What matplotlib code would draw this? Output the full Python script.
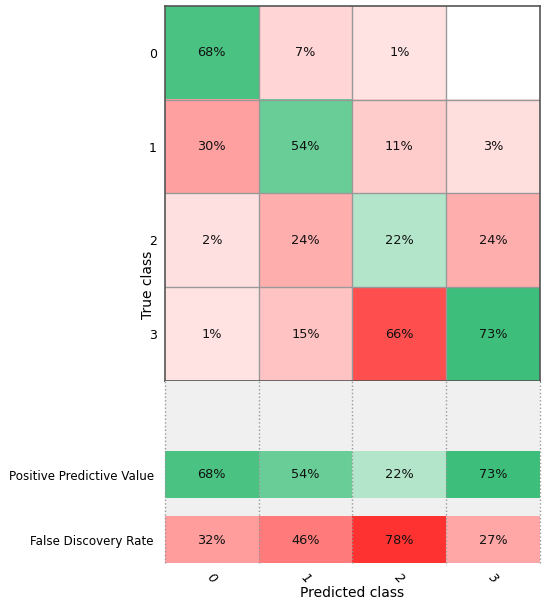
import numpy as np
import matplotlib
matplotlib.use('Agg')
import matplotlib.pyplot as plt

# Confusion matrix values (percent), rows = true class, cols = predicted class
classes = ['0', '1', '2', '3']
cm_pct = np.array([
    [68, 7, 1, 0],
    [30, 54, 11, 3],
    [2, 24, 22, 24],
    [1, 15, 66, 73],
])
ppv_pct = [68, 54, 22, 73]
fdr_pct = [32, 46, 78, 27]
row_labels = ['Positive Predictive Value', 'False Discovery Rate']

GREEN = np.array([0, 170, 80]) / 255.0
RED = np.array([255, 0, 0]) / 255.0


def shade(value, base):
    """Blend white toward base colour, zero stays white."""
    if value <= 0:
        return np.ones(3)
    f = 0.1 + 0.9 * value / 100.0
    return (1 - f) * np.ones(3) + f * base


def main():
    fig = plt.figure(figsize=(5.5, 6.08), dpi=100)

    # matrix panel
    ax = fig.add_axes([0.3, 0.3734, 0.6818, 0.6168])
    n = len(classes)
    rgb = np.zeros((n, n, 3))
    for i in range(n):
        for j in range(n):
            rgb[i, j] = shade(cm_pct[i, j], GREEN if i == j else RED)
    ax.imshow(rgb, aspect='auto', extent=(-0.5, n - 0.5, n - 0.5, -0.5))
    for i in range(n):
        for j in range(n):
            if cm_pct[i, j] > 0:
                ax.text(j, i, f'{cm_pct[i, j]}%', ha='center', va='center',
                        fontsize=9.3, color='#111111')
    for k in range(1, n):
        ax.axhline(k - 0.5, color='#999999', lw=1)
        ax.axvline(k - 0.5, color='#999999', lw=1)
    ax.set_xlim(-0.5, n - 0.5)
    ax.set_ylim(n - 0.5, -0.5)
    ax.set_xticks([])
    ax.set_yticks(range(n))
    ax.set_yticklabels(classes, fontsize=9)
    ax.tick_params(axis='y', length=0, pad=6)
    for s in ax.spines.values():
        s.set_color('#555555')
        s.set_linewidth(1.2)

    # summary panel (PPV / FDR)
    ax2 = fig.add_axes([0.3, 0.074, 0.6818, 0.2994])
    ax2.set_facecolor('#f0f0f0')
    h = 0.355
    ppv_rgb = np.array([[shade(v, GREEN) for v in ppv_pct]])
    fdr_rgb = np.array([[shade(v, RED) for v in fdr_pct]])
    ax2.imshow(ppv_rgb, aspect='auto', extent=(-0.5, n - 0.5, 1 + h, 1 - h))
    ax2.imshow(fdr_rgb, aspect='auto', extent=(-0.5, n - 0.5, 2 + h, 2 - h))
    for j in range(n):
        ax2.text(j, 1, f'{ppv_pct[j]}%', ha='center', va='center', fontsize=9.3, color='#111111')
        ax2.text(j, 2, f'{fdr_pct[j]}%', ha='center', va='center', fontsize=9.3, color='#111111')
    for k in range(n + 1):
        ax2.axvline(k - 0.5, color='#999999', lw=1, linestyle=':', clip_on=False)
    ax2.set_xlim(-0.5, n - 0.5)
    ax2.set_ylim(2.35, -0.427)
    for s in ax2.spines.values():
        s.set_visible(False)
    ax2.set_yticks([1, 2])
    ax2.set_yticklabels(row_labels, fontsize=8.6)
    ax2.tick_params(length=0)
    ax2.tick_params(axis='y', pad=8)
    ax2.set_xticks(range(n))
    ax2.set_xticklabels(classes, fontsize=9, rotation=-45, fontstyle='italic')
    ax2.tick_params(axis='x', pad=6)
    ax2.set_xlabel('Predicted class', fontsize=10, labelpad=0)

    fig.text(0.27, 0.532, 'True class', rotation=90, ha='center', va='center', fontsize=10)

    fig.savefig('out.png', dpi=100)
    plt.close(fig)


if __name__ == '__main__':
    main()
